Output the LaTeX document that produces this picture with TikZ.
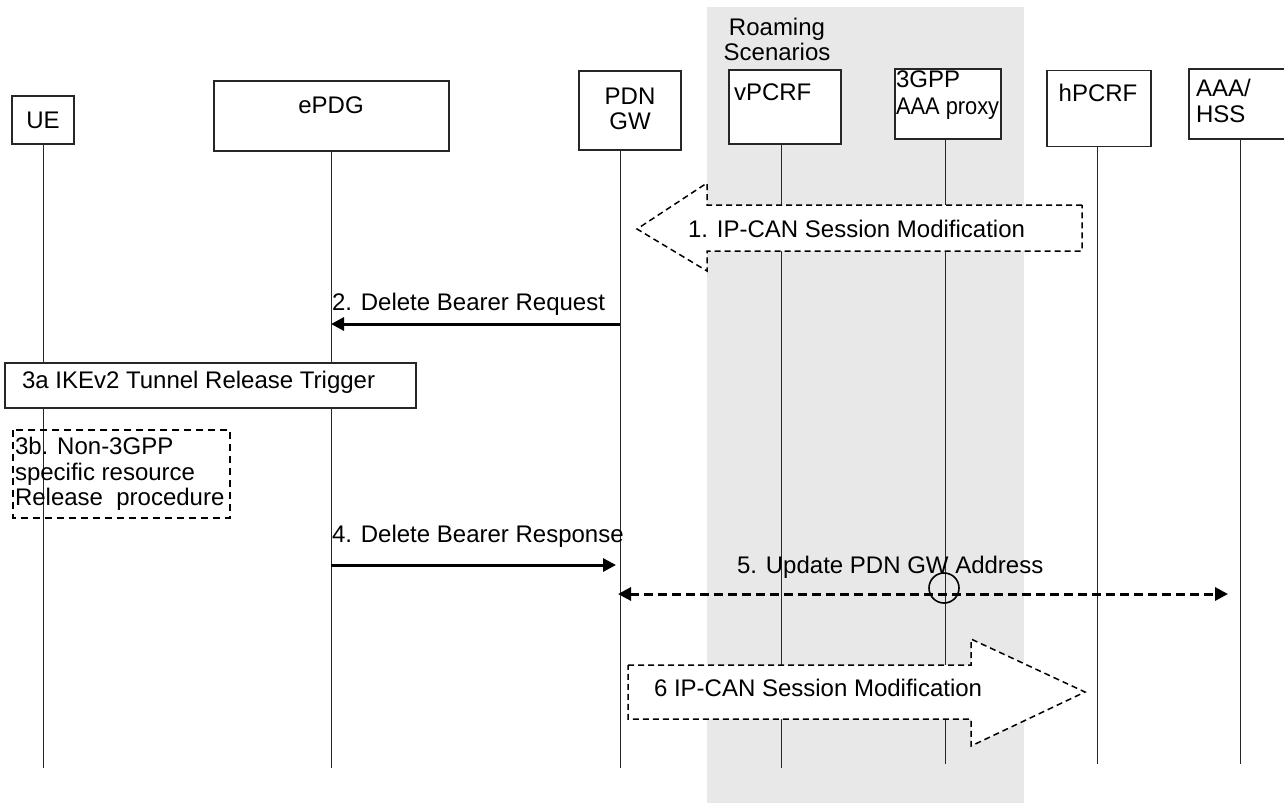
\documentclass[tikz,border=0pt]{standalone}
\usepackage{fontspec}
\setmainfont{Liberation Sans}
\usetikzlibrary{arrows.meta,calc}
\begin{document}
\begin{tikzpicture}[x=0.5pt,y=-0.5pt,
  every node/.style={font=\fontsize{12}{13}\selectfont, inner sep=0pt, outer sep=0pt},
  ent/.style={draw=black!85, line width=0.8pt, fill=white},
  life/.style={line width=0.5pt, draw=black!85},
  msg/.style={line width=1.5pt, -{Triangle[length=6.5pt,width=6.5pt]}},
  dmsg/.style={line width=1.5pt, dash pattern=on 4.5pt off 2.5pt,
     {Triangle[length=6.5pt,width=6.5pt]}-{Triangle[length=6.5pt,width=6.5pt]}},
  fat/.style={draw=black, fill=white, line width=0.75pt, dash pattern=on 3pt off 2pt},
  proc/.style={draw=black, line width=1pt, dash pattern=on 3.5pt off 2.5pt},
  lbl/.style={anchor=base west},
  clbl/.style={anchor=base}
]
\path[use as bounding box] (0,0) rectangle (1284,805);
\clip (0,0) rectangle (1284,805);
\definecolor{roamgrey}{HTML}{E8E8E8}
% roaming area
\fill[roamgrey] (707,7) rectangle (1024,803);
\node[clbl] (roam1) at (777,35) {Roaming};
\node[clbl] (roam2) at (777,60) {Scenarios};

% entities
\node[ent, minimum width=31pt, minimum height=24pt] (ue) at (43,120) {};
\node[clbl] (uet) at (43,128.6) {UE};
\node[ent, minimum width=117.5pt, minimum height=35pt] (epdg) at (331.5,116) {};
\node[clbl] (epdgt) at (331,113.6) {ePDG};
\node[ent, minimum width=51pt, minimum height=39.5pt] (pdn) at (630,110.5) {};
\node[clbl] (pdnt1) at (630,104.6) {PDN};
\node[clbl] (pdnt2) at (630,129.6) {GW};
\node[ent, minimum width=56pt, minimum height=37pt] (vpcrf) at (785,107) {};
\node[lbl] (vpcrft) at (734,100.6) {vPCRF};
\node[ent, minimum width=53pt, minimum height=35pt] (proxy) at (948,104) {};
\node[lbl] (proxyt1) at (896,87.6) {3GPP};
\node[lbl] (proxyt2) at (896,114.6) {\scalebox{0.91}[1]{AAA proxy}};
\node[ent, minimum width=52pt, minimum height=38pt] (hpcrf) at (1099,108.5) {};
\node[clbl] (hpcrft) at (1098,101) {hPCRF};
\node[ent, minimum width=52pt, minimum height=35pt] (hss) at (1241,104) {};
\node[lbl] (hsst1) at (1196,96.6) {AAA/};
\node[lbl] (hsst2) at (1196,122.6) {HSS};

% lifelines
\coordinate (ueT) at (43,144);   \coordinate (ueB) at (43,768);
\coordinate (epdgT) at (331,151); \coordinate (epdgB) at (331,768);
\coordinate (pdnT) at (620,150); \coordinate (pdnB) at (620,768);
\coordinate (vpcrfT) at (781,144); \coordinate (vpcrfB) at (781,768);
\coordinate (proxyT) at (945,139); \coordinate (proxyB) at (945,764);
\coordinate (hpcrfT) at (1097,147); \coordinate (hpcrfB) at (1097,764);
\coordinate (hssT) at (1240,139); \coordinate (hssB) at (1240,764);
\foreach \n in {ue,epdg,pdn,vpcrf,proxy,hpcrf,hss}
  \draw[life] (\n T) -- (\n B);

% 1. IP-CAN Session Modification (fat arrow pointing left)
\draw[fat] (1082,205) -- (707,205) -- (707,183) -- (637,229) -- (707,271) -- (707,251) -- (1082,251) -- cycle;
\node[lbl] (m1t) at (688,237.6) {1. IP-CAN Session Modification};

% 2. Delete Bearer Request
\coordinate (m2) at (0,324);
\draw[msg] (pdnT |- m2) -- (epdgT |- m2);
\node[lbl] (m2t) at (332,310.6) {2. Delete Bearer Request};

% 3a
\node[ent, anchor=north west, minimum width=205.5pt, minimum height=22.5pt] (s3a) at (5,363) {};
\node[lbl] (s3at) at (22,388.6) {3a IKEv2 Tunnel Release Trigger};

% 3b
\draw[proc] (13,430) rectangle (230,518);
\node[lbl] (s3bt1) at (15,454.6) {3b. Non-3GPP};
\node[lbl] (s3bt2) at (15,480.6) {specific resource};
\node[lbl] (s3bt3) at (15,505.6) {Release\ \ procedure};

% 4. Delete Bearer Response
\coordinate (m4) at (0,565);
\draw[msg, shorten >=2pt] (epdgT |- m4) -- (pdnT |- m4);
\node[lbl] (m4t) at (332,542.6) {4. Delete Bearer Response};

% 5. Update PDN GW Address
\coordinate (m5) at (0,594);
\draw[dmsg, shorten >=6pt, shorten <=-1pt] (pdnT |- m5) -- (hssT |- m5);
\node[lbl] (m5t) at (737,573.6) {5. Update PDN GW Address};
\node[draw, circle, line width=0.8pt, minimum size=15pt] (c5) at (944,588) {};

% 6 IP-CAN Session Modification (fat arrow pointing right)
\draw[fat] (628,665) -- (971,665) -- (971,639) -- (1085,692) -- (971,746) -- (971,719) -- (628,719) -- cycle;
\node[lbl] (m6t) at (654,696.6) {6 IP-CAN Session Modification};
\end{tikzpicture}
\end{document}
